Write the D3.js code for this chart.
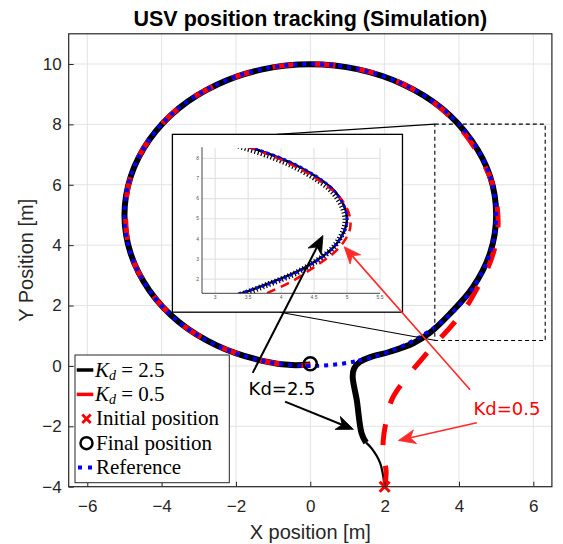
<!DOCTYPE html>
<html><head><meta charset="utf-8">
<script src="https://cdn.jsdelivr.net/npm/d3@7"></script>
<style>body{margin:0;background:#fff}svg{display:block}</style>
</head><body>
<svg id="c" width="563" height="544"></svg>
<script>
// ---------- data ----------
const xTicks = [-6, -4, -2, 0, 2, 4, 6];
const yTicks = [-4, -2, 0, 2, 4, 6, 8, 10];
const insetXTicks = [3, 3.5, 4, 4.5, 5, 5.5];
const insetXLabels = ["3", "3.5", "4", "4.5", "5", "5.5"];
const insetYTicks = [2, 3, 4, 5, 6, 7, 8];

// reference circle (x, y)
const refX = [0, 1.29, 2.5, 3.54, 4.33, 4.83, 5, 4.83, 4.33, 3.54, 2.5, 1.29, 0, -1.29, -2.5, -3.54, -4.33, -4.83, -5, -4.83, -4.33, -3.54, -2.5, -1.29];
const refY = [0, 0.17, 0.67, 1.46, 2.5, 3.71, 5, 6.29, 7.5, 8.54, 9.33, 9.83, 10, 9.83, 9.33, 8.54, 7.5, 6.29, 5, 3.71, 2.5, 1.46, 0.67, 0.17];

// Kd = 2.5, first (thin) stretch from the start
const kd25StartX = [2.0, 1.88, 1.65, 1.5];
const kd25StartY = [-4.0, -3.22, -2.73, -2.54];
// Kd = 2.5, rest of the run
const kd25X = [1.5, 1.38, 1.25, 1.14, 1.18, 1.34, 1.61, 2.14, 2.77, 3.22, 3.75, 4.36, 4.84, 5.0, 4.84, 4.33, 3.54, 2.5, 1.29, 0, -1.29, -2.5, -3.54, -4.33, -4.83, -5, -4.83, -4.33, -3.54, -2.5, -1.29, -0.5, 0];
const kd25Y = [-2.54, -2.23, -1.13, -0.35, -0.08, 0.14, 0.29, 0.47, 0.75, 1.1, 1.72, 2.58, 3.75, 5.0, 6.27, 7.48, 8.53, 9.32, 9.82, 9.99, 9.82, 9.32, 8.53, 7.49, 6.28, 5.0, 3.71, 2.5, 1.46, 0.67, 0.17, 0.03, 0.05];

// Kd = 0.5
const kd05X = [2.0, 2.04, 1.97, 1.96, 2.03, 2.2, 2.55, 2.95, 3.35, 3.78, 4.18, 4.5, 4.78, 4.97, 5.05, 5.02, 4.88, 4.6, 4.15, 3.5, 2.5, 1.29, 0, -1.29, -2.5, -3.54, -4.33, -4.83, -4.97, -4.83, -4.33, -3.54, -2.5, -1.29, -0.4, 0];
const kd05Y = [-4.0, -3.5, -3.0, -2.5, -1.9, -1.1, -0.45, 0.15, 0.72, 1.3, 1.92, 2.6, 3.25, 3.95, 4.6, 5.35, 6.1, 6.85, 7.7, 8.55, 9.33, 9.83, 10, 9.83, 9.33, 8.54, 7.5, 6.29, 5, 3.71, 2.5, 1.46, 0.67, 0.17, 0.02, 0.02];

const initialPos = [2, -4];
const finalPos = [0, 0.07];

const legendLabels = ["Initial position", "Final position", "Reference"];

// ---------- layout ----------
const svg = d3.select("#c");
const x = d3.scaleLinear().domain([-6.5, 6.5]).range([68.7, 551.9]);
const y = d3.scaleLinear().domain([-4, 11]).range([486.7, 33.8]);
const AX = "#262626", GRID = "#e3e3e3";

const pts = (xs, ys) => xs.map((v, i) => [v, ys[i]]);
const line = (sx, sy, curve) => d3.line().x(d => sx(d[0])).y(d => sy(d[1])).curve(curve || d3.curveCatmullRom.alpha(0.5));

// grid
const g = svg.append("g");
g.selectAll(".gx").data(xTicks).join("line")
  .attr("x1", d => x(d)).attr("x2", d => x(d)).attr("y1", y(-4)).attr("y2", y(11))
  .attr("stroke", GRID).attr("stroke-width", 1);
g.selectAll(".gy").data(yTicks).join("line")
  .attr("y1", d => y(d)).attr("y2", d => y(d)).attr("x1", x(-6.5)).attr("x2", x(6.5))
  .attr("stroke", GRID).attr("stroke-width", 1);

// curves
const curves = svg.append("g");
curves.append("path").attr("d", line(x, y)(pts(kd25StartX, kd25StartY)))
  .attr("fill", "none").attr("stroke", "#000").attr("stroke-width", 2.2);
curves.append("path").attr("d", line(x, y)(pts(kd25X, kd25Y)))
  .attr("fill", "none").attr("stroke", "#000").attr("stroke-width", 6).attr("stroke-linejoin", "round");
curves.append("path").attr("d", line(x, y)(pts(kd05X, kd05Y)))
  .attr("fill", "none").attr("stroke", "#ff0000").attr("stroke-width", 5).attr("stroke-dasharray", "21,21");
curves.append("path").attr("d", line(x, y, d3.curveCatmullRomClosed.alpha(0.5))(pts(refX, refY)))
  .attr("fill", "none").attr("stroke", "#0000ff").attr("stroke-width", 4).attr("stroke-dasharray", "4,5");

// markers
function cross(gg, cx, cy, s, color, w) {
  gg.append("path").attr("d", `M${cx - s},${cy - s}L${cx + s},${cy + s}M${cx - s},${cy + s}L${cx + s},${cy - s}`)
    .attr("stroke", color).attr("stroke-width", w).attr("fill", "none");
}
cross(svg, x(initialPos[0]), y(initialPos[1]), 5, "#ff0000", 3);
svg.append("circle").attr("cx", x(finalPos[0])).attr("cy", y(finalPos[1])).attr("r", 6.5)
  .attr("fill", "none").attr("stroke", "#000").attr("stroke-width", 2.5);

// dashed zoom box
const zoomBox = [3.35, 6.32, 0.84, 8.01];
svg.append("rect").attr("x", x(zoomBox[0])).attr("y", y(zoomBox[3]))
  .attr("width", x(zoomBox[1]) - x(zoomBox[0])).attr("height", y(zoomBox[2]) - y(zoomBox[3]))
  .attr("fill", "none").attr("stroke", "#000").attr("stroke-width", 1.1).attr("stroke-dasharray", "4,3");

// connectors
const conn = [[-0.9, 7.67, 3.35, 8.01], [-0.82, 1.78, 3.38, 0.84]];
svg.selectAll(".conn").data(conn).join("line")
  .attr("x1", d => x(d[0])).attr("y1", d => y(d[1])).attr("x2", d => x(d[2])).attr("y2", d => y(d[3]))
  .attr("stroke", "#000").attr("stroke-width", 1.1);

// ---------- inset ----------
const insetBox = [-3.71, 2.48, 1.78, 7.67];
svg.append("rect").attr("x", x(insetBox[0])).attr("y", y(insetBox[3]))
  .attr("width", x(insetBox[1]) - x(insetBox[0])).attr("height", y(insetBox[2]) - y(insetBox[3]))
  .attr("fill", "#fff").attr("stroke", "#000").attr("stroke-width", 1.3);
const ix = d3.scaleLinear().domain([2.8, 5.5]).range([202, 380]);
const iy = d3.scaleLinear().domain([1.3, 8.5]).range([293.3, 148.2]);
const ig = svg.append("g");
ig.selectAll(".igx").data(insetXTicks).join("line")
  .attr("x1", d => ix(d)).attr("x2", d => ix(d)).attr("y1", iy(1.3)).attr("y2", iy(8.5))
  .attr("stroke", GRID).attr("stroke-width", 1.2);
ig.selectAll(".igy").data(insetYTicks).join("line")
  .attr("y1", d => iy(d)).attr("y2", d => iy(d)).attr("x1", ix(2.8)).attr("x2", ix(5.5))
  .attr("stroke", GRID).attr("stroke-width", 1.2);
svg.append("clipPath").attr("id", "iclip").append("rect")
  .attr("x", ix(2.8)).attr("y", iy(8.5)).attr("width", ix(5.5) - ix(2.8)).attr("height", iy(1.3) - iy(8.5));
const ic = ig.append("g").attr("clip-path", "url(#iclip)");
ic.append("path").attr("d", line(ix, iy)(pts(kd25X, kd25Y)))
  .attr("fill", "none").attr("stroke", "#000").attr("stroke-width", 2.4);
ic.append("path").attr("d", line(ix, iy)(pts(kd25X, kd25Y)))
  .attr("fill", "none").attr("stroke", "#000").attr("stroke-width", 6).attr("stroke-dasharray", "1.2,2.2")
  .attr("transform", "translate(-1.5,1.5)");
ic.append("path").attr("d", line(ix, iy)(pts(kd05X, kd05Y)))
  .attr("fill", "none").attr("stroke", "#ff0000").attr("stroke-width", 2.5).attr("stroke-dasharray", "9,6");
ic.append("path").attr("d", line(ix, iy, d3.curveCatmullRomClosed.alpha(0.5))(pts(refX, refY)))
  .attr("fill", "none").attr("stroke", "#0000ff").attr("stroke-width", 2.8).attr("stroke-dasharray", "3,3");
ig.append("path").attr("d", `M${ix(2.8)},${iy(8.55)}V${iy(1.3)}H${ix(5.5)}`)
  .attr("fill", "none").attr("stroke", "#444").attr("stroke-width", 1);
ig.selectAll(".ixl").data(insetXTicks).join("text")
  .attr("x", d => ix(d)).attr("y", iy(1.3) + 6).attr("text-anchor", "middle")
  .attr("font-family", "Liberation Sans, Arial, sans-serif").attr("font-size", 5).attr("fill", "#555")
  .text((d, i) => insetXLabels[i]);
ig.selectAll(".iyl").data(insetYTicks).join("text")
  .attr("x", ix(2.8) - 3).attr("y", d => iy(d) + 1.7).attr("text-anchor", "end")
  .attr("font-family", "Liberation Sans, Arial, sans-serif").attr("font-size", 5).attr("fill", "#555")
  .text(d => d);

// ---------- axes box & ticks ----------
const ax = svg.append("g");
ax.append("g").attr("transform", `translate(0,${y(-4)})`)
  .call(d3.axisBottom(x).tickValues(xTicks).tickSize(-5).tickPadding(13).tickFormat(d3.format("d")))
  .call(s => s.select(".domain").remove())
  .call(s => s.selectAll("line").attr("stroke", AX))
  .call(s => s.selectAll("text").attr("fill", AX).attr("font-size", 17).attr("font-family", "Liberation Sans, Arial, sans-serif"));
ax.append("g").attr("transform", `translate(${x(-6.5)},0)`)
  .call(d3.axisLeft(y).tickValues(yTicks).tickSize(-5).tickPadding(7).tickFormat(d3.format("d")))
  .call(s => s.select(".domain").remove())
  .call(s => s.selectAll("line").attr("stroke", AX))
  .call(s => s.selectAll("text").attr("fill", AX).attr("font-size", 17).attr("font-family", "Liberation Sans, Arial, sans-serif"));
ax.append("rect").attr("x", x(-6.5)).attr("y", y(11)).attr("width", x(6.5) - x(-6.5)).attr("height", y(-4) - y(11))
  .attr("fill", "none").attr("stroke", AX).attr("stroke-width", 1.2);

// ---------- annotations ----------
function arrow(x1, y1, x2, y2, color, w, L, hw) {
  const X1 = x(x1), Y1 = y(y1), X2 = x(x2), Y2 = y(y2);
  const dx = X2 - X1, dy = Y2 - Y1, len = Math.hypot(dx, dy), ux = dx / len, uy = dy / len;
  const px = -uy, py = ux;
  const bx = X2 - ux * L, by = Y2 - uy * L;
  const nx = X2 - ux * L * 0.72, ny = Y2 - uy * L * 0.72;
  svg.append("line").attr("x1", X1).attr("y1", Y1).attr("x2", nx).attr("y2", ny)
    .attr("stroke", color).attr("stroke-width", w);
  svg.append("path").attr("d", `M${X2},${Y2}L${bx + px * hw},${by + py * hw}L${nx},${ny}L${bx - px * hw},${by - py * hw}Z`)
    .attr("fill", color).attr("stroke", color).attr("stroke-width", 0.8);
}
arrow(-1.55, -0.23, 0.34, 4.32, "#000", 2, 18, 7.5);
arrow(-0.68, -1.18, 1.16, -2.10, "#000", 2, 17, 7);
arrow(4.30, -0.79, 0.91, 3.95, "#ff2a2a", 1.6, 17, 7);
arrow(4.48, -1.88, 2.37, -2.47, "#ff2a2a", 1.6, 17, 7);

svg.append("text").attr("x", x(-0.76)).attr("y", y(-0.96)).attr("text-anchor", "middle")
  .attr("font-family", "DejaVu Sans, sans-serif").attr("font-size", 18).attr("fill", "#000").text("Kd=2.5");
svg.append("text").attr("x", x(5.29)).attr("y", y(-1.62)).attr("text-anchor", "middle")
  .attr("font-family", "DejaVu Sans, sans-serif").attr("font-size", 18).attr("fill", "#ff0000").text("Kd=0.5");

// ---------- legend ----------
const lg = svg.append("g");
lg.append("rect").attr("x", 75).attr("y", 355).attr("width", 154.3).attr("height", 127.7)
  .attr("fill", "#fff").attr("stroke", AX).attr("stroke-width", 1);
const rowY = [370, 394.4, 418.8, 443.2, 467.6];
const serif = "Liberation Serif, Times New Roman, serif";
lg.append("line").attr("x1", 76.7).attr("x2", 93.3).attr("y1", rowY[0]).attr("y2", rowY[0]).attr("stroke", "#000").attr("stroke-width", 3.5);
lg.append("line").attr("x1", 76.7).attr("x2", 93.3).attr("y1", rowY[1]).attr("y2", rowY[1]).attr("stroke", "#ff0000").attr("stroke-width", 3.5);
cross(lg, 86.5, rowY[2], 4.2, "#ff0000", 2.8);
lg.append("circle").attr("cx", 86.5).attr("cy", rowY[3]).attr("r", 6).attr("fill", "none").attr("stroke", "#000").attr("stroke-width", 2.5);
lg.append("line").attr("x1", 78).attr("x2", 92).attr("y1", rowY[4]).attr("y2", rowY[4]).attr("stroke", "#0000ff").attr("stroke-width", 4).attr("stroke-dasharray", "4,6");
const kdVals = ["2.5", "0.5"];
kdVals.forEach((v, i) => {
  const t = lg.append("text").attr("x", 95).attr("y", rowY[i] + 6.5).attr("font-family", serif).attr("font-size", 21).attr("fill", "#000");
  t.append("tspan").attr("font-style", "italic").text("K");
  t.append("tspan").attr("font-style", "italic").attr("font-size", 14).attr("dy", 3).text("d");
  t.append("tspan").attr("dy", -3).text(" = " + v);
});
legendLabels.forEach((s, i) => {
  lg.append("text").attr("x", 96).attr("y", rowY[i + 2] + 6.5).attr("font-family", serif).attr("font-size", 21).attr("fill", "#000").text(s);
});

// ---------- titles ----------
svg.append("text").attr("x", x(0)).attr("y", 26).attr("text-anchor", "middle")
  .attr("font-family", "Liberation Sans, Arial, sans-serif").attr("font-weight", "bold").attr("font-size", 21.5).attr("fill", "#000")
  .text("USV position tracking (Simulation)");
svg.append("text").attr("x", x(0)).attr("y", 539).attr("text-anchor", "middle")
  .attr("font-family", "Liberation Sans, Arial, sans-serif").attr("font-size", 20).attr("fill", AX)
  .text("X position [m]");
svg.append("text").attr("transform", `translate(33,${y(3.5)}) rotate(-90)`).attr("text-anchor", "middle")
  .attr("font-family", "Liberation Sans, Arial, sans-serif").attr("font-size", 20).attr("fill", AX)
  .text("Y Position [m]");
</script>
</body></html>
